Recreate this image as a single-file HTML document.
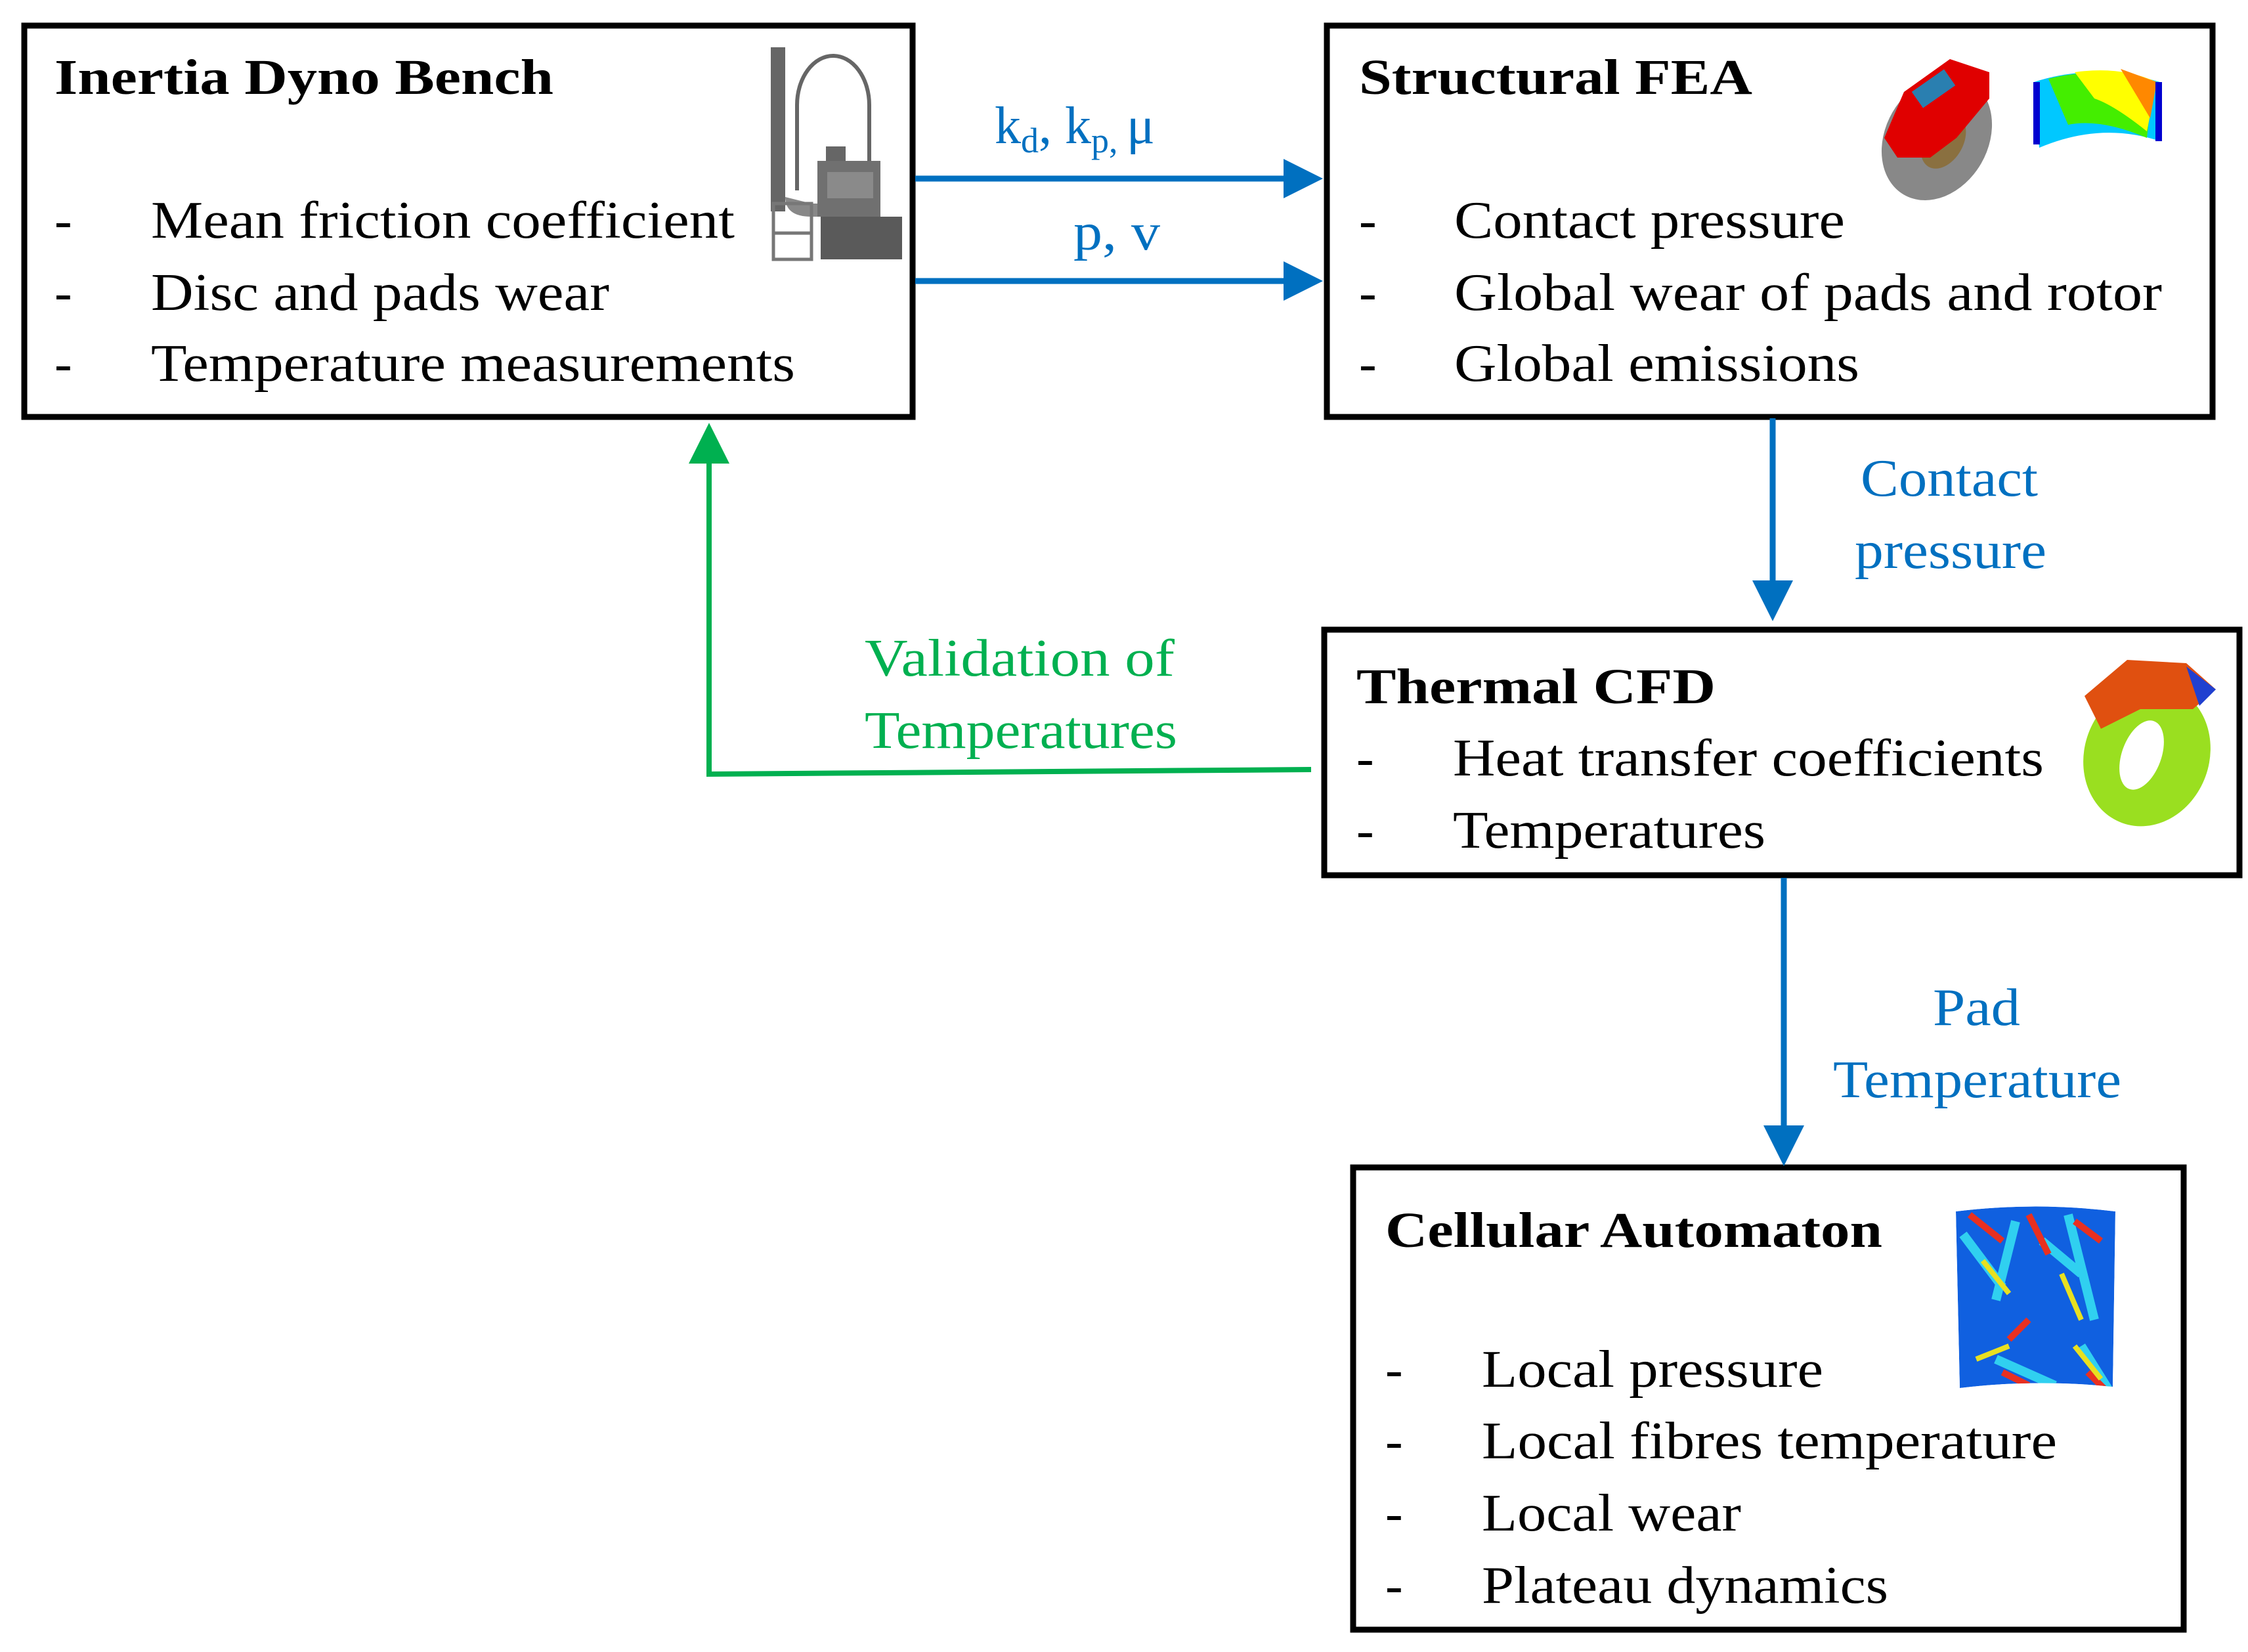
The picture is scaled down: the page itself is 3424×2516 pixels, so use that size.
<!DOCTYPE html>
<html><head><meta charset="utf-8"><style>html,body{margin:0;padding:0;background:#fff}svg{display:block}svg text{font-family:"Liberation Serif","Times New Roman",serif}</style></head>
<body>
<svg width="3424" height="2516" viewBox="0 0 3424 2516" xmlns="http://www.w3.org/2000/svg">
<defs><clipPath id="ca"><path d="M2979,1845 Q3100,1830 3222,1845 L3218,2112 Q3100,2100 2985,2114 Z"/></clipPath></defs>
<rect width="3424" height="2516" fill="#fff"/>
<g fill="none" stroke="#000" stroke-width="9">
<rect x="37" y="39" width="1353" height="596"/>
<rect x="2021" y="39" width="1349" height="596"/>
<rect x="2017" y="959" width="1394" height="374"/>
<rect x="2061" y="1778" width="1265" height="704"/>
</g>
<g stroke="#0070C0" stroke-width="9" fill="none">
<line x1="1394" y1="272" x2="1965" y2="272"/>
<line x1="1394" y1="428" x2="1965" y2="428"/>
<line x1="2700" y1="637" x2="2700" y2="890"/>
<line x1="2717" y1="1337" x2="2717" y2="1720"/>
</g>
<g fill="#0070C0">
<polygon points="2015,272 1955,242 1955,302"/>
<polygon points="2015,428 1955,398 1955,458"/>
<polygon points="2700,946 2669,884 2731,884"/>
<polygon points="2717,1776 2686,1714 2748,1714"/>
</g>
<polyline points="1997,1172 1080,1179 1080,700" fill="none" stroke="#00B050" stroke-width="8"/>
<polygon points="1080,644 1049,706 1111,706" fill="#00B050"/>
<g font-weight="bold" font-size="76" fill="#000">
<text x="83" y="143" textLength="760" lengthAdjust="spacingAndGlyphs">Inertia Dyno Bench</text>
<text x="2070" y="143" textLength="599" lengthAdjust="spacingAndGlyphs">Structural FEA</text>
<text x="2066" y="1071" textLength="547" lengthAdjust="spacingAndGlyphs">Thermal CFD</text>
<text x="2110" y="1899" textLength="757" lengthAdjust="spacingAndGlyphs">Cellular Automaton</text>
</g>
<g font-size="80" fill="#000">
<text x="83" y="362">-</text><text x="230" y="362" textLength="889" lengthAdjust="spacingAndGlyphs">Mean friction coefficient</text>
<text x="83" y="472">-</text><text x="230" y="472" textLength="698" lengthAdjust="spacingAndGlyphs">Disc and pads wear</text>
<text x="83" y="580">-</text><text x="230" y="580" textLength="981" lengthAdjust="spacingAndGlyphs">Temperature measurements</text>
<text x="2070" y="362">-</text><text x="2215" y="362" textLength="595" lengthAdjust="spacingAndGlyphs">Contact pressure</text>
<text x="2070" y="472">-</text><text x="2215" y="472" textLength="1078" lengthAdjust="spacingAndGlyphs">Global wear of pads and rotor</text>
<text x="2070" y="580">-</text><text x="2215" y="580" textLength="617" lengthAdjust="spacingAndGlyphs">Global emissions</text>
<text x="2066" y="1181">-</text><text x="2213" y="1181" textLength="900" lengthAdjust="spacingAndGlyphs">Heat transfer coefficients</text>
<text x="2066" y="1291">-</text><text x="2213" y="1291" textLength="476" lengthAdjust="spacingAndGlyphs">Temperatures</text>
<text x="2110" y="2112">-</text><text x="2257" y="2112" textLength="520" lengthAdjust="spacingAndGlyphs">Local pressure</text>
<text x="2110" y="2221">-</text><text x="2257" y="2221" textLength="876" lengthAdjust="spacingAndGlyphs">Local fibres temperature</text>
<text x="2110" y="2331">-</text><text x="2257" y="2331" textLength="395" lengthAdjust="spacingAndGlyphs">Local wear</text>
<text x="2110" y="2441">-</text><text x="2257" y="2441" textLength="619" lengthAdjust="spacingAndGlyphs">Plateau dynamics</text>
</g>
<g font-size="80" fill="#0070C0">
<text x="1515" y="218">k<tspan font-size="54" dy="14">d</tspan><tspan dy="-14">, k</tspan><tspan font-size="54" dy="14">p, </tspan><tspan dy="-14">μ</tspan></text>
<text x="1635" y="380" textLength="132" lengthAdjust="spacingAndGlyphs">p, v</text>
<text x="2834" y="755" textLength="270" lengthAdjust="spacingAndGlyphs">Contact</text>
<text x="2825" y="865" textLength="292" lengthAdjust="spacingAndGlyphs">pressure</text>
<text x="2944" y="1561" textLength="133" lengthAdjust="spacingAndGlyphs">Pad</text>
<text x="2792" y="1671" textLength="439" lengthAdjust="spacingAndGlyphs">Temperature</text>
</g>
<g font-size="80" fill="#00B050">
<text x="1317" y="1029" textLength="472" lengthAdjust="spacingAndGlyphs">Validation of</text>
<text x="1317" y="1139" textLength="476" lengthAdjust="spacingAndGlyphs">Temperatures</text>
</g>
<g>
<rect x="1174" y="72" width="22" height="250" fill="#666"/>
<path d="M1196,300 q0,30 40,30 l50,0 l0,-20 l-50,0 z" fill="#888"/>
<path d="M1214,290 L1214,160 A55,75 0 0 1 1324,160 L1324,260" fill="none" stroke="#666" stroke-width="6"/>
<rect x="1258" y="223" width="30" height="28" fill="#666"/>
<rect x="1245" y="245" width="96" height="85" fill="#707070"/>
<rect x="1260" y="262" width="70" height="40" fill="#8a8a8a"/>
<rect x="1250" y="330" width="124" height="65" fill="#5a5a5a"/>
<rect x="1178" y="310" width="58" height="85" fill="none" stroke="#777" stroke-width="5"/>
<line x1="1178" y1="355" x2="1236" y2="355" stroke="#777" stroke-width="5"/>
</g>
<g>
<ellipse cx="2950" cy="210" rx="78" ry="100" transform="rotate(30 2950 210)" fill="#888"/>
<ellipse cx="2960" cy="215" rx="30" ry="45" transform="rotate(30 2960 215)" fill="#8a7040"/>
<path d="M2870,210 L2900,140 L2970,90 L3030,110 L3030,150 L2980,210 L2940,240 L2890,240 Z" fill="#e00000"/>
<rect x="2915" y="120" width="60" height="30" transform="rotate(-35 2945 135)" fill="#2a7fb0"/>
</g>
<g>
<path d="M3098,125 Q3190,95 3290,125 L3290,215 Q3200,185 3106,225 Z" fill="#00c8ff"/>
<path d="M3120,120 Q3200,100 3280,125 L3270,210 Q3200,180 3150,190 Z" fill="#44ee00"/>
<path d="M3160,110 Q3230,100 3285,125 L3270,200 Q3220,160 3190,150 Z" fill="#ffff00"/>
<path d="M3230,105 L3285,125 L3275,180 Z" fill="#ff8800"/>
<rect x="3097" y="125" width="10" height="95" fill="#0000d0"/>
<rect x="3283" y="125" width="10" height="90" fill="#0000d0"/>
</g>
<g>
<ellipse cx="3270" cy="1150" rx="95" ry="110" transform="rotate(20 3270 1150)" fill="#9adf20"/>
<ellipse cx="3262" cy="1150" rx="30" ry="55" transform="rotate(20 3262 1150)" fill="#fff"/>
<path d="M3175,1060 L3240,1005 L3330,1010 L3375,1050 L3340,1080 L3260,1080 L3200,1110 Z" fill="#e05010"/>
<path d="M3330,1015 L3375,1050 L3350,1075 Z" fill="#2040d0"/>
</g>
<g clip-path="url(#ca)">
<path d="M2979,1845 Q3100,1830 3222,1845 L3218,2112 Q3100,2100 2985,2114 Z" fill="#1060e0"/>
<path d="M2990,1880 l60,80 m20,-100 l-30,120 m70,-90 l60,50 m-20,-90 l40,160 m-150,60 l90,40 m40,-60 l50,80 m-200,40 l60,-30 m60,40 l80,-20" stroke="#30d0f0" stroke-width="14" fill="none"/>
<path d="M3000,1850 l50,40 m40,-40 l30,60 m40,-50 l40,30 m-150,200 l40,20 m90,-20 l40,40 m-160,-90 l30,-30" stroke="#e83020" stroke-width="10" fill="none"/>
<path d="M3020,1920 l40,50 m80,-30 l30,70 m-160,60 l50,-20 m100,0 l40,50" stroke="#e8e020" stroke-width="8" fill="none"/>
</g>
</svg>
</body></html>
